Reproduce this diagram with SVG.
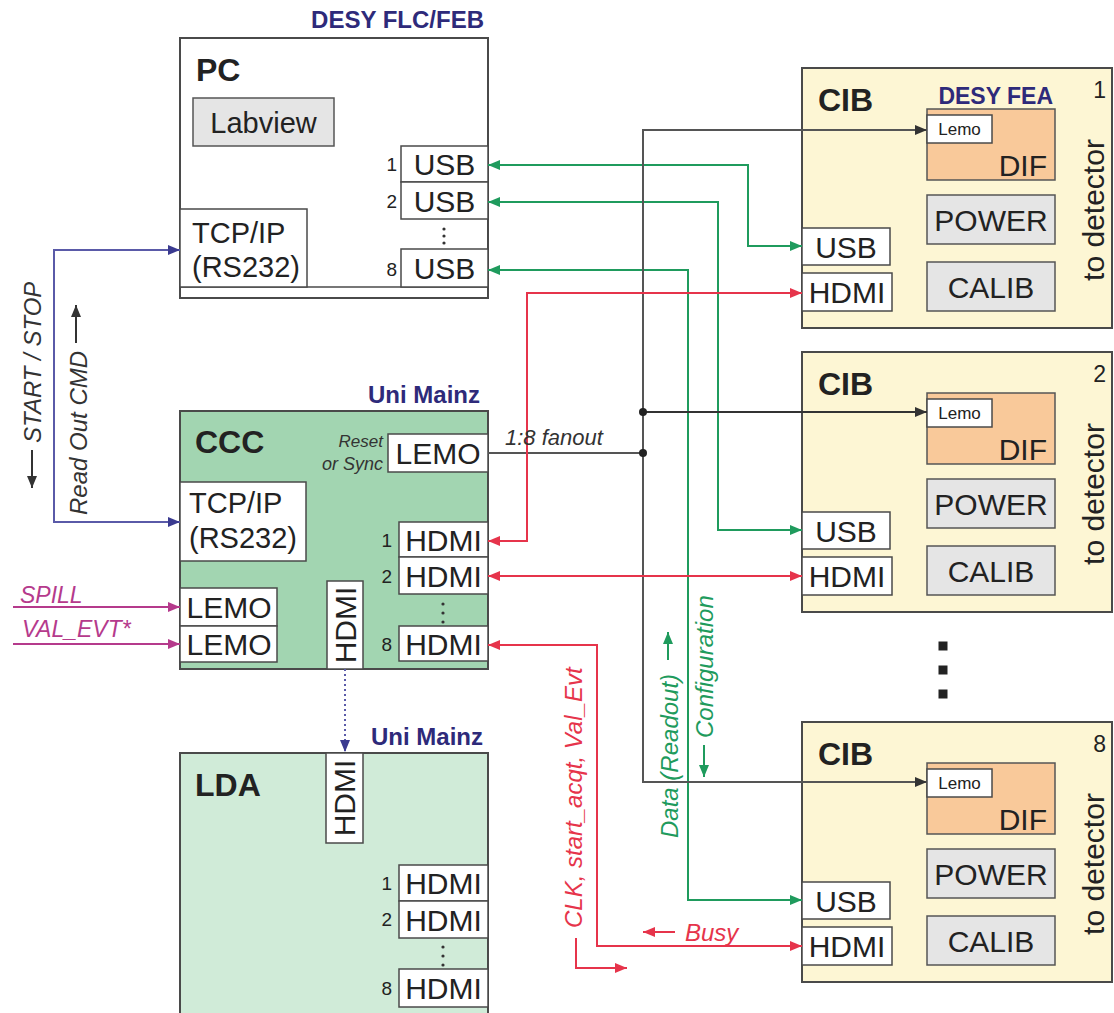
<svg xmlns="http://www.w3.org/2000/svg" width="1114" height="1013" viewBox="0 0 1114 1013">
<defs>
<style>
text{font-family:"Liberation Sans",Arial,sans-serif;fill:#222}
.node{stroke:#4a4a4a;stroke-width:2}
.port{fill:#fff;stroke:#4a4a4a;stroke-width:1.5}
.gray{fill:#e5e5e5;stroke:#555;stroke-width:1.5}
.dif{fill:#f9c99a;stroke:#555;stroke-width:1.5}
.big{font-size:32px;font-weight:bold}
.pt{font-size:30px;text-anchor:middle}
.num{font-size:19px;text-anchor:end}
.org{font-size:24px;font-weight:bold;fill:#2e2a7a;text-anchor:end}
.it{font-style:italic;font-size:24px}
.c{fill:none;stroke-width:2}
.g{stroke:#1f9b5d}
.r{stroke:#e6344b}
.k{stroke:#555}
.b{stroke:#5a5aa8}
.m{stroke:#b53a8c}
.dot{fill:#333}
</style>
<marker id="ag" markerUnits="userSpaceOnUse" markerWidth="13" markerHeight="10" refX="12" refY="5" orient="auto-start-reverse"><path d="M0,0 L12,5 L0,10 z" fill="#1f9b5d"/></marker>
<marker id="ar" markerUnits="userSpaceOnUse" markerWidth="13" markerHeight="10" refX="12" refY="5" orient="auto-start-reverse"><path d="M0,0 L12,5 L0,10 z" fill="#e6344b"/></marker>
<marker id="ak" markerUnits="userSpaceOnUse" markerWidth="13" markerHeight="10" refX="12" refY="5" orient="auto-start-reverse"><path d="M0,0 L12,5 L0,10 z" fill="#333"/></marker>
<marker id="ab" markerUnits="userSpaceOnUse" markerWidth="13" markerHeight="10" refX="12" refY="5" orient="auto-start-reverse"><path d="M0,0 L12,5 L0,10 z" fill="#3a3a90"/></marker>
<marker id="am" markerUnits="userSpaceOnUse" markerWidth="13" markerHeight="10" refX="12" refY="5" orient="auto-start-reverse"><path d="M0,0 L12,5 L0,10 z" fill="#b53a8c"/></marker>
</defs>

<!-- PC -->
<g id="pc">
<text class="org" x="484" y="28">DESY FLC/FEB</text>
<rect class="node" x="180" y="38" width="308" height="260" fill="#fff"/>
<line x1="180" y1="287" x2="488" y2="287" stroke="#4a4a4a" stroke-width="1.5"/>
<text class="big" x="196" y="81">PC</text>
<rect class="gray" x="193" y="98" width="141" height="48"/>
<text class="pt" x="263.5" y="132.5" style="font-size:29px">Labview</text>
<rect class="port" x="180" y="209" width="127" height="78"/>
<text x="192" y="243" style="font-size:29px">TCP/IP</text>
<text x="192" y="277" style="font-size:29px">(RS232)</text>
<rect class="port" x="401" y="146" width="87" height="36"/>
<rect class="port" x="401" y="182" width="87" height="37"/>
<rect class="port" x="401" y="249" width="87" height="38"/>
<text class="pt" x="444.5" y="175">USB</text>
<text class="pt" x="444.5" y="211.5">USB</text>
<text class="pt" x="444.5" y="279">USB</text>
<text class="num" x="397" y="171">1</text>
<text class="num" x="397" y="208">2</text>
<text class="num" x="397" y="276">8</text>
<circle class="dot" cx="444" cy="229" r="1.6"/>
<circle class="dot" cx="444" cy="236" r="1.6"/>
<circle class="dot" cx="444" cy="243" r="1.6"/>
</g>

<!-- CCC -->
<g id="ccc">
<text class="org" x="480" y="403">Uni Mainz</text>
<rect class="node" x="180" y="411" width="308" height="258" fill="#a2d5b1"/>
<text class="big" x="195" y="453">CCC</text>
<text class="it" x="383" y="447" style="font-size:17px;text-anchor:end;fill:#333">Reset</text>
<text class="it" x="383" y="470" style="font-size:18px;text-anchor:end;fill:#333">or Sync</text>
<rect class="port" x="388" y="434" width="100" height="38"/>
<text class="pt" x="438" y="464">LEMO</text>
<rect class="port" x="180" y="482" width="126" height="79"/>
<text x="189" y="513" style="font-size:29px">TCP/IP</text>
<text x="189" y="548" style="font-size:29px">(RS232)</text>
<rect class="port" x="399" y="522" width="89" height="35"/>
<rect class="port" x="399" y="557" width="89" height="37"/>
<rect class="port" x="399" y="626" width="89" height="35"/>
<text class="pt" x="443.5" y="550.5">HDMI</text>
<text class="pt" x="443.5" y="586.5">HDMI</text>
<text class="pt" x="443.5" y="654.5">HDMI</text>
<text class="num" x="392" y="547">1</text>
<text class="num" x="392" y="583">2</text>
<text class="num" x="392" y="651">8</text>
<circle class="dot" cx="443" cy="604" r="1.6"/>
<circle class="dot" cx="443" cy="613" r="1.6"/>
<circle class="dot" cx="443" cy="622" r="1.6"/>
<rect class="port" x="180" y="588" width="97" height="38"/>
<rect class="port" x="180" y="626" width="97" height="36"/>
<text class="pt" x="229" y="618">LEMO</text>
<text class="pt" x="229" y="655">LEMO</text>
<rect class="port" x="327" y="581" width="36" height="88"/>
<text class="pt" transform="translate(355.5,625) rotate(-90)">HDMI</text>
</g>

<!-- LDA -->
<g id="lda">
<text class="org" x="483" y="745">Uni Mainz</text>
<rect class="node" x="180" y="753" width="308" height="270" fill="#d0ebd8"/>
<text class="big" x="195" y="796">LDA</text>
<rect class="port" x="326" y="753" width="37" height="90"/>
<text class="pt" transform="translate(355,798) rotate(-90)">HDMI</text>
<rect class="port" x="399" y="865" width="89" height="36"/>
<rect class="port" x="399" y="901" width="89" height="37"/>
<rect class="port" x="399" y="969" width="89" height="38"/>
<text class="pt" x="443.5" y="894">HDMI</text>
<text class="pt" x="443.5" y="930.5">HDMI</text>
<text class="pt" x="443.5" y="999">HDMI</text>
<text class="num" x="392" y="890">1</text>
<text class="num" x="392" y="926">2</text>
<text class="num" x="392" y="995">8</text>
<circle class="dot" cx="443" cy="947" r="1.6"/>
<circle class="dot" cx="443" cy="956" r="1.6"/>
<circle class="dot" cx="443" cy="965" r="1.6"/>
</g>

<!-- CIB 1 -->
<g id="cib1">
<rect class="node" x="802" y="68" width="310" height="260" fill="#fdf6d4"/>
<text class="big" x="818" y="111">CIB</text>
<text class="org" x="1053" y="104" style="font-size:23px">DESY FEA</text>
<text x="1106" y="98" style="font-size:23px;text-anchor:end">1</text>
<rect class="dif" x="927" y="109" width="128" height="71"/>
<rect class="port" x="927" y="115" width="65" height="28"/>
<text class="pt" x="959.5" y="135" style="font-size:17px">Lemo</text>
<text x="1047" y="176" style="font-size:30px;text-anchor:end">DIF</text>
<rect class="gray" x="927" y="195" width="128" height="49"/>
<text class="pt" x="991" y="230.5">POWER</text>
<rect class="gray" x="927" y="262" width="128" height="49"/>
<text class="pt" x="991" y="297.5">CALIB</text>
<rect class="port" x="802" y="228" width="88" height="37"/>
<text class="pt" x="846" y="257.5">USB</text>
<rect class="port" x="802" y="273" width="90" height="38"/>
<text class="pt" x="847" y="303">HDMI</text>
<text class="pt" transform="translate(1104,210) rotate(-90)">to detector</text>
</g>

<!-- CIB 2 -->
<g id="cib2" transform="translate(0,284)">
<rect class="node" x="802" y="68" width="310" height="260" fill="#fdf6d4"/>
<text class="big" x="818" y="111">CIB</text>
<text x="1106" y="98" style="font-size:23px;text-anchor:end">2</text>
<rect class="dif" x="927" y="109" width="128" height="71"/>
<rect class="port" x="927" y="115" width="65" height="28"/>
<text class="pt" x="959.5" y="135" style="font-size:17px">Lemo</text>
<text x="1047" y="176" style="font-size:30px;text-anchor:end">DIF</text>
<rect class="gray" x="927" y="195" width="128" height="49"/>
<text class="pt" x="991" y="230.5">POWER</text>
<rect class="gray" x="927" y="262" width="128" height="49"/>
<text class="pt" x="991" y="297.5">CALIB</text>
<rect class="port" x="802" y="228" width="88" height="37"/>
<text class="pt" x="846" y="257.5">USB</text>
<rect class="port" x="802" y="273" width="90" height="38"/>
<text class="pt" x="847" y="303">HDMI</text>
<text class="pt" transform="translate(1104,210) rotate(-90)">to detector</text>
</g>

<!-- CIB 8 -->
<g id="cib8" transform="translate(0,654)">
<rect class="node" x="802" y="68" width="310" height="260" fill="#fdf6d4"/>
<text class="big" x="818" y="111">CIB</text>
<text x="1106" y="98" style="font-size:23px;text-anchor:end">8</text>
<rect class="dif" x="927" y="109" width="128" height="71"/>
<rect class="port" x="927" y="115" width="65" height="28"/>
<text class="pt" x="959.5" y="135" style="font-size:17px">Lemo</text>
<text x="1047" y="176" style="font-size:30px;text-anchor:end">DIF</text>
<rect class="gray" x="927" y="195" width="128" height="49"/>
<text class="pt" x="991" y="230.5">POWER</text>
<rect class="gray" x="927" y="262" width="128" height="49"/>
<text class="pt" x="991" y="297.5">CALIB</text>
<rect class="port" x="802" y="228" width="88" height="37"/>
<text class="pt" x="846" y="257.5">USB</text>
<rect class="port" x="802" y="273" width="90" height="38"/>
<text class="pt" x="847" y="303">HDMI</text>
<text class="pt" transform="translate(1104,210) rotate(-90)">to detector</text>
</g>

<g id="more">
<rect x="938.5" y="641.5" width="9" height="9" fill="#222"/>
<rect x="938.5" y="665.5" width="9" height="9" fill="#222"/>
<rect x="938.5" y="689.5" width="9" height="9" fill="#222"/>
</g>

<!-- connectors -->
<g id="connectors">
<path class="c b" d="M180,250 H54 V522 H180" marker-start="url(#ab)" marker-end="url(#ab)"/>
<path class="c m" d="M13,607 H180" marker-end="url(#am)"/>
<path class="c m" d="M13,644 H180" marker-end="url(#am)"/>
<path class="c b" d="M345,669 V752" stroke-dasharray="2,3" marker-end="url(#ab)"/>
<path class="c g" d="M488,165 H748 V246 H802" marker-start="url(#ag)" marker-end="url(#ag)"/>
<path class="c g" d="M488,202 H718 V530 H802" marker-start="url(#ag)" marker-end="url(#ag)"/>
<path class="c g" d="M488,270 H688 V900 H802" marker-start="url(#ag)" marker-end="url(#ag)"/>
<path class="c k" d="M488,453 H643"/>
<path class="c k" d="M643,453 V130 H927" marker-end="url(#ak)"/>
<path class="c k" d="M643,453 V782 H927" marker-end="url(#ak)"/>
<path class="c" stroke="#333" d="M643,412 H927" marker-end="url(#ak)"/>
<circle cx="643" cy="412" r="4" fill="#222"/>
<circle cx="643" cy="453" r="4" fill="#222"/>
<path class="c r" d="M488,541 H527 V293 H802" marker-start="url(#ar)" marker-end="url(#ar)"/>
<path class="c r" d="M488,576 H802" marker-start="url(#ar)" marker-end="url(#ar)"/>
<path class="c r" d="M488,645 H597 V946 H802" marker-start="url(#ar)" marker-end="url(#ar)"/>
</g>

<!-- connector labels -->
<g id="labels">
<text class="it" transform="translate(41,443) rotate(-90)" style="fill:#333">START / STOP</text>
<path class="c" stroke="#333" stroke-width="1.5" d="M32,450 V488" marker-end="url(#ak)"/>
<text class="it" transform="translate(87,515) rotate(-90)" style="fill:#333">Read Out CMD</text>
<path class="c" stroke="#333" stroke-width="1.5" d="M76,343 V305" marker-end="url(#ak)"/>
<text class="it" x="20" y="603" style="font-size:23px;fill:#b53a8c">SPILL</text>
<text class="it" x="22" y="637" style="font-size:23px;fill:#b53a8c">VAL_EVT*</text>
<text class="it" x="505" y="445" style="font-size:22px;fill:#333">1:8 fanout</text>
<text class="it" transform="translate(678,838) rotate(-90)" style="fill:#1f9b5d">Data (Readout)</text>
<path class="c g" stroke-width="1.5" d="M668,660 V632" marker-end="url(#ag)"/>
<text class="it" transform="translate(713,738) rotate(-90)" style="fill:#1f9b5d">Configuration</text>
<path class="c g" stroke-width="1.5" d="M704,745 V777" marker-end="url(#ag)"/>
<text class="it" transform="translate(582,928) rotate(-90)" style="fill:#e6344b">CLK, start_acqt, Val_Evt</text>
<path class="c r" stroke-width="1.5" d="M576,938 V968 H627" marker-end="url(#ar)"/>
<text class="it" x="685" y="941" style="fill:#e6344b">Busy</text>
<path class="c r" stroke-width="1.5" d="M675,932 H643" marker-end="url(#ar)"/>
</g>
</svg>
